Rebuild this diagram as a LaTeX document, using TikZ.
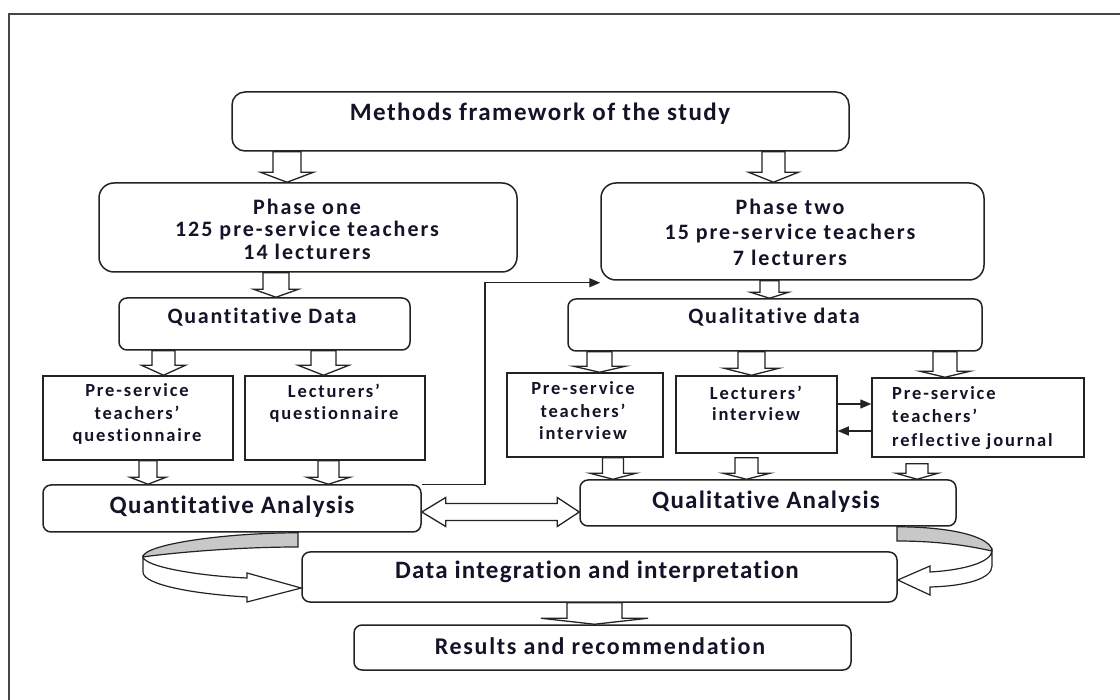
\documentclass[tikz,border=0pt]{standalone}
\usepackage{fontspec}
\setmainfont{Carlito}[RawFeature={-liga}]
\usetikzlibrary{arrows.meta,calc}

\definecolor{ink}{RGB}{20,20,40}
\definecolor{edge}{RGB}{35,35,35}
\definecolor{band}{RGB}{200,200,200}
\definecolor{framec}{RGB}{70,70,70}

% bold Carlito at a given size, baseline skip and tracking
\newcommand{\bfsz}[3]{\fontsize{#1}{#2}\selectfont\bfseries\addfontfeature{LetterSpace=#3,RawFeature={-liga}}}

% hollow block arrow pointing down from one node to another
% #1 x centre, #2 source, #3 target, #4 shaft half-width, #5 head half-width,
% #6 head length, #7 gap below the source
\newcommand{\blockdown}[7]{%
  \path (#1,0 |- #2.south) coordinate (bd-a) (#1,0 |- #3.north) coordinate (bd-b);
  \draw[blockarrow] ([xshift=-#4pt,yshift=-#7pt]bd-a) -- ([xshift=-#4pt,yshift=#6pt]bd-b)
    -- ([xshift=-#5pt,yshift=#6pt]bd-b) -- (bd-b) -- ([xshift=#5pt,yshift=#6pt]bd-b)
    -- ([xshift=#4pt,yshift=#6pt]bd-b) -- ([xshift=#4pt,yshift=-#7pt]bd-a) -- cycle;
}

\tikzset{
  box/.style={draw=edge, line width=1.5pt, fill=white, inner sep=0pt},
  rbox/.style={box, rounded corners=#1},
  rbox/.default=8pt,
  txt/.style={text=ink, inner sep=0pt},
  blockarrow/.style={draw=edge, line width=1.3pt, fill=white, line join=miter},
  conn/.style={draw=edge, line width=1.3pt, -{Triangle[length=11pt,width=9pt]}},
  ribbon/.style={draw=edge, line width=1.2pt},
}

\begin{document}
\begin{tikzpicture}[x=1pt,y=-1pt]
\useasboundingbox (0,0) rectangle (1120,700);
\clip (0,0) rectangle (1120,700);
\fill[white] (0,0) rectangle (1120,700);

% outer frame
\draw[framec, line width=2.5pt] (9,720) -- (9,14) -- (1140,14);

% boxes
\node[rbox=13pt, minimum width=617pt, minimum height=59pt] (methods) at (540.5,121.5) {};
\node[rbox=15pt, minimum width=418pt, minimum height=89pt] (phase1) at (308,227.5) {};
\node[rbox=15pt, minimum width=383pt, minimum height=97pt] (phase2) at (792.5,231.5) {};
\node[rbox, minimum width=291pt, minimum height=52pt] (qndata) at (264.5,324) {};
\node[rbox, minimum width=414pt, minimum height=52pt] (qldata) at (775,325) {};
\node[box, minimum width=190pt, minimum height=84pt] (pstq) at (138,418) {};
\node[box, minimum width=180pt, minimum height=84pt] (lecq) at (335,418) {};
\node[box, minimum width=156pt, minimum height=84pt] (psti) at (585,415) {};
\node[box, minimum width=161pt, minimum height=77pt] (leci) at (756.5,414.5) {};
\node[box, minimum width=212pt, minimum height=79pt] (jour) at (978,417.5) {};
\node[rbox, minimum width=378pt, minimum height=47pt] (qnan) at (232,508.5) {};
\node[rbox, minimum width=376pt, minimum height=46pt] (qlan) at (768,503) {};
\node[rbox, minimum width=595pt, minimum height=50pt] (dint) at (599.5,577) {};
\node[rbox, minimum width=497pt, minimum height=45pt] (res) at (602.5,647.5) {};

% texts
\node[txt, font=\bfsz{25}{27}{6}] (methods-t) at (540,114) {Methods framework of the study};
\node[txt, align=center, font=\bfsz{22}{22.5}{9}] (phase1-t) at (307,229) {Phase one\\125 pre-service teachers\\14 lecturers};
\node[txt, align=center, font=\bfsz{22}{25.5}{9}] (phase2-t) at (790,232) {Phase two\\15 pre-service teachers\\7 lecturers};
\node[txt, font=\bfsz{22}{24}{8}] (qndata-t) at (262,317) {Quantitative Data};
\node[txt, font=\bfsz{22}{24}{8}] (qldata-t) at (774,317) {Qualitative data};
\node[txt, align=center, font=\bfsz{18.5}{22.5}{10}] (pstq-t) at (137,414) {Pre-service\\teachers’\\questionnaire};
\node[txt, align=center, font=\bfsz{18.5}{22.5}{10}] (lecq-t) at (334,403) {Lecturers’\\questionnaire};
\node[txt, align=center, font=\bfsz{18.5}{22.5}{10}] (psti-t) at (583,411) {Pre-service\\teachers’\\interview};
\node[txt, align=center, font=\bfsz{18.5}{21.5}{10}] (leci-t) at (756,403.5) {Lecturers’\\interview};
\node[txt, align=left, anchor=west, font=\bfsz{18.5}{23.5}{10}] (jour-t) at (892,418) {Pre-service\\teachers’\\reflective journal};
\node[txt, font=\bfsz{25}{27}{5}] (qnan-t) at (232,507) {Quantitative Analysis};
\node[txt, font=\bfsz{25}{27}{5}] (qlan-t) at (766,502) {Qualitative Analysis};
\node[txt, font=\bfsz{25}{27}{5}] (dint-t) at (597,572) {Data integration and interpretation};
\node[txt, font=\bfsz{24}{26}{7}] (res-t) at (600,646) {Results and recommendation};

% block arrows
\blockdown{287}{methods}{phase1}{14}{26.5}{10}{0}
\blockdown{773.5}{methods}{phase2}{11.5}{25}{10}{0}
\blockdown{276}{phase1}{qndata}{13}{22.5}{8}{0}
\blockdown{769.5}{phase2}{qldata}{9.5}{19}{6}{0}
\blockdown{163.5}{qndata}{pstq}{11.5}{22}{10}{0}
\blockdown{323.5}{qndata}{lecq}{12.5}{25.5}{10}{0}
\blockdown{599.5}{qldata}{psti}{12.5}{26}{6}{0}
\blockdown{751.5}{qldata}{leci}{13.5}{27.5}{7}{0}
\blockdown{945}{qldata}{jour}{12}{25}{6}{0}
\blockdown{148}{pstq}{qnan}{9}{18}{7}{0}
\blockdown{328.5}{lecq}{qnan}{10.5}{21.5}{7}{0}
\blockdown{613}{psti}{qlan}{10.5}{23}{6}{0}
\blockdown{746.5}{leci}{qlan}{11.5}{23.5}{6}{4}
\blockdown{917}{jour}{qlan}{11}{21}{6}{6}
\blockdown{594.5}{dint}{res}{27.5}{53.5}{6}{0}

% two-way block arrow between the analyses
\path (qnan.east |- 0,512) coordinate (da-l) (qlan.west |- 0,512) coordinate (da-r);
\draw[blockarrow] (da-l) -- ++(24,-14.5) -- ++(0,6) -- ($(da-r)+(-22,-8.5)$) -- ++(0,-6)
  -- (da-r) -- ++(-22,14.5) -- ++(0,-6) -- ($(da-l)+(24,8.5)$) -- ++(0,6) -- cycle;

% thin connectors
\draw[conn] (qnan.north east) -- (485,0 |- qnan.north east) |- ([yshift=-2pt]phase2.south west);
\draw[conn] (leci.east |- 0,404) -- (jour.west |- 0,404);
\draw[conn] (jour.west |- 0,431) -- (leci.east |- 0,431);

% curved arrow from the quantitative analysis into the integration box
\coordinate (lc-a) at (298,0 |- qnan.south);
\coordinate (lc-tip) at (dint.west |- 0,588);
\draw[ribbon, fill=band] (lc-a) .. controls (220,533) and (143,545) .. (143,557)
  .. controls (155,555) and (225,547) .. (298,547) -- cycle;
\draw[ribbon, fill=white, line join=miter] (143,557) .. controls (145,567) and (200,576) .. (247,578)
  -- (247,573) -- (lc-tip) -- (247,602) -- (247,597)
  .. controls (195,594) and (143,585) .. (143,572) -- cycle;

% curved arrow from the qualitative analysis into the integration box
\coordinate (rc-a) at (897,0 |- qlan.south);
\coordinate (rc-tip) at (dint.east |- 0,580);
\draw[ribbon, fill=band] (rc-a) .. controls (960,527) and (992,539) .. (992,551)
  .. controls (982,549) and (950,541) .. (897,541) -- cycle;
\draw[ribbon, fill=white, line join=miter] (992,551) .. controls (991,562) and (965,570) .. (930,572)
  -- (930,566) -- (rc-tip) -- (930,595) -- (930,587)
  .. controls (968,586) and (992,578) .. (992,566) -- cycle;
\end{tikzpicture}
\end{document}
